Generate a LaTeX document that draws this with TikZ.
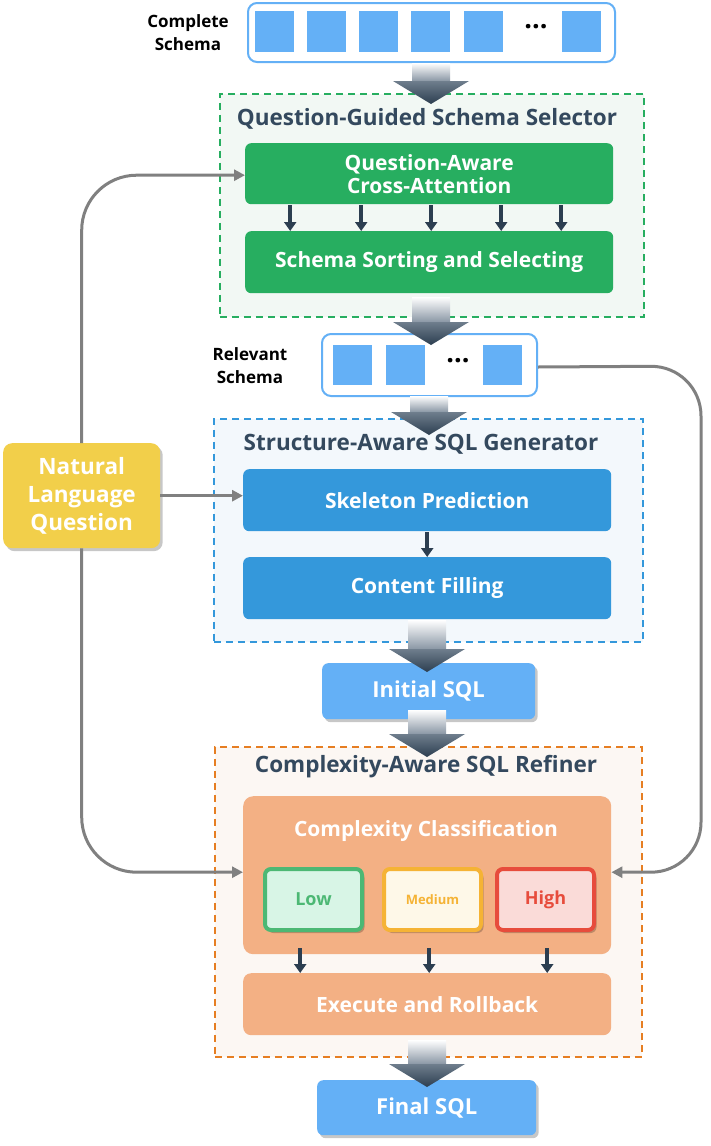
\documentclass[tikz,border=0pt]{standalone}
\usepackage{fontspec}
\setmainfont{Open Sans}
\usetikzlibrary{arrows.meta,shadows}
\definecolor{sgreen}{HTML}{27AE60}
\definecolor{sgreenbg}{HTML}{F2F8F4}
\definecolor{sblue}{HTML}{3498DB}
\definecolor{sbluebg}{HTML}{F3F8FC}
\definecolor{lblue}{HTML}{64B0F6}
\definecolor{sorange}{HTML}{E67E22}
\definecolor{sorangebg}{HTML}{FCF7F3}
\definecolor{peach}{HTML}{F3B084}
\definecolor{ttl}{HTML}{34495E}
\definecolor{darkc}{HTML}{2C3E50}
\definecolor{yel}{HTML}{F2CF4A}
\definecolor{conn}{HTML}{808080}
\definecolor{lowc}{HTML}{4CB874}
\definecolor{lowbg}{HTML}{D8F5E6}
\definecolor{medc}{HTML}{F5B335}
\definecolor{medbg}{HTML}{FEF8E8}
\definecolor{highc}{HTML}{E74C3C}
\definecolor{highbg}{HTML}{FADBD8}
\definecolor{shaftc}{HTML}{8A97A5}
\definecolor{headtop}{HTML}{6F7E8D}
\newcommand\fatarrow[3]{%
  \shade[top color=white, bottom color=shaftc] (#1-19,#2) rectangle (#1+19,#3-23);
  \shade[top color=headtop, bottom color=darkc] (#1-38,#3-23) -- (#1+38,#3-23) -- (#1,#3) -- cycle;}
\begin{document}
\begin{tikzpicture}[x=1pt,y=-1pt,
  cont/.style={dash pattern=on 7pt off 5pt, line width=1.5pt, anchor=north west, inner sep=0pt},
  sbox/.style={anchor=north west, inner sep=0pt, rounded corners=6pt, text=white,
    font=\bfseries\fontsize{21}{26}\selectfont, align=center},
  ttlstyle/.style={text=ttl, font=\bfseries\fontsize{22.5}{26}\selectfont},
  sq/.style={fill=lblue, minimum width=39pt, minimum height=41pt, inner sep=0pt},
  lbl/.style={font=\bfseries\fontsize{17}{23}\selectfont, align=center},
  dots/.style={font=\bfseries\fontsize{27}{27}\selectfont},
  shad/.style={drop shadow={shadow xshift=2.5pt, shadow yshift=-3pt, opacity=0.22, fill=black}},
  connarr/.style={draw=conn, line width=3pt, -{Triangle[length=11pt,width=11pt]}},
  darr/.style={draw=darkc, line width=3.5pt, -{Triangle[length=9pt,width=12pt]}},
  lvl/.style={anchor=north west, inner sep=0pt, line width=4pt, rounded corners=6pt, shad,
    minimum width=97pt, minimum height=61pt, font=\bfseries\fontsize{18}{20}\selectfont}
]
\useasboundingbox (0,0) rectangle (710,1146);
\fill[white] (0,0) rectangle (710,1146);

% complete schema
\node[anchor=north west, draw=lblue, line width=2pt, rounded corners=9pt, fill=white,
  minimum width=367pt, minimum height=59pt, inner sep=0pt] (cs) at (247,2) {};
\foreach \x/\n in {274/a,326/b,378/c,430.5/d,483/e,581/f} \node[sq] (cs\n) at (\x,31.5) {};
\node[dots] (csdots) at (536,27) {...};
\node[lbl] (cslbl) at (188,33) {Complete\\Schema};

% selector
\node[cont, draw=sgreen, fill=sgreenbg, minimum width=424pt, minimum height=223pt] (gc) at (219,93) {};
\node[ttlstyle] (gct) at (427,119) {Question-Guided Schema Selector};
\node[sbox, fill=sgreen, minimum width=368pt, minimum height=61pt] (qa) at (245,143) {Question-Aware\\[-3pt]Cross-Attention};
\node[sbox, fill=sgreen, minimum width=368pt, minimum height=62pt] (ss) at (245,231) {Schema Sorting and Selecting};
\foreach \x in {290,361,431,501,561}
  \draw[darr] ([xshift={\x-429}, yshift=-1pt]qa.south) -- ([xshift={\x-429}]ss.north);

% relevant schema
\node[anchor=north west, draw=lblue, line width=2pt, rounded corners=9pt, fill=white,
  minimum width=215pt, minimum height=62pt, inner sep=0pt] (rs) at (321,333) {};
\foreach \x/\n in {352.5/a,405.5/b,502/c} \node[sq, minimum height=40pt] (rs\n) at (\x,365) {};
\node[dots] (rsdots) at (458,361) {...};
\node[lbl] (rslbl) at (250,366) {Relevant\\Schema};

% generator
\node[cont, draw=sblue, fill=sbluebg, minimum width=429pt, minimum height=223pt] (bc) at (213,418) {};
\node[ttlstyle] (bct) at (421,444) {Structure-Aware SQL Generator};
\node[sbox, fill=sblue, minimum width=368pt, minimum height=62pt] (sp) at (243,469) {Skeleton Prediction};
\node[sbox, fill=sblue, minimum width=368pt, minimum height=62pt] (cf) at (243,557) {Content Filling};
\draw[darr] ([yshift=-1pt]sp.south) -- (cf.north);

% initial SQL
\node[sbox, fill=lblue, shad, minimum width=213pt, minimum height=56pt,
  font=\bfseries\fontsize{22}{26}\selectfont] (isql) at (322,663) {Initial SQL};

% refiner
\node[cont, draw=sorange, fill=sorangebg, minimum width=427pt, minimum height=310pt] (oc) at (214,746) {};
\node[ttlstyle] (oct) at (426,767) {Complexity-Aware SQL Refiner};
\node[anchor=north west, inner sep=0pt, fill=peach, rounded corners=10pt,
  minimum width=368pt, minimum height=158pt] (cc) at (243,796) {};
\node[text=white, font=\bfseries\fontsize{21}{24}\selectfont] (cct) at (426,831) {Complexity Classification};
\node[lvl, draw=lowc, fill=lowbg, text=lowc] (low) at (263,867) {Low};
\node[lvl, draw=medc, fill=medbg, text=medc, font=\bfseries\fontsize{13}{15}\selectfont] (med) at (382,867) {Medium};
\node[lvl, draw=highc, fill=highbg, text=highc] (high) at (495,867) {High};
\node[sbox, fill=peach, rounded corners=8pt, minimum width=368pt, minimum height=62pt] (ex) at (243,973) {Execute and Rollback};
\foreach \x in {300,429,547}
  \draw[darr] ([xshift={\x-427}, yshift=6pt]cc.south) -- ([xshift={\x-427}]ex.north);

% final SQL
\node[sbox, fill=lblue, shad, minimum width=219pt, minimum height=55pt,
  font=\bfseries\fontsize{22}{26}\selectfont] (fsql) at (317,1080) {Final SQL};

% natural language question
\node[anchor=north west, inner sep=0pt, fill=yel, rounded corners=9pt, shad, text=white,
  minimum width=157pt, minimum height=105pt, align=center,
  font=\bfseries\fontsize{22.5}{28}\selectfont] (nlq) at (3,443) {Natural\\Language\\Question};

% connectors
\draw[connarr, rounded corners=55pt] (nlq.north) |- ([yshift=-1.5pt]qa.west);
\draw[connarr] (nlq.east) -- (nlq.east -| sp.west);
\draw[connarr, rounded corners=55pt] (nlq.south) |- ([yshift=3pt]cc.west);
\coordinate (rc) at (701,366);
\draw[connarr, rounded corners=50pt] ([yshift=-2pt]rs.east) -- (rc) |- ([yshift=3pt]cc.east);

% fat flow arrows
\fatarrow{431}{63}{104}
\fatarrow{431}{297}{345}
\fatarrow{429}{396}{435}
\fatarrow{427}{620}{672}
\fatarrow{427}{710}{757}
\fatarrow{427}{1040}{1087}
\end{tikzpicture}
\end{document}
